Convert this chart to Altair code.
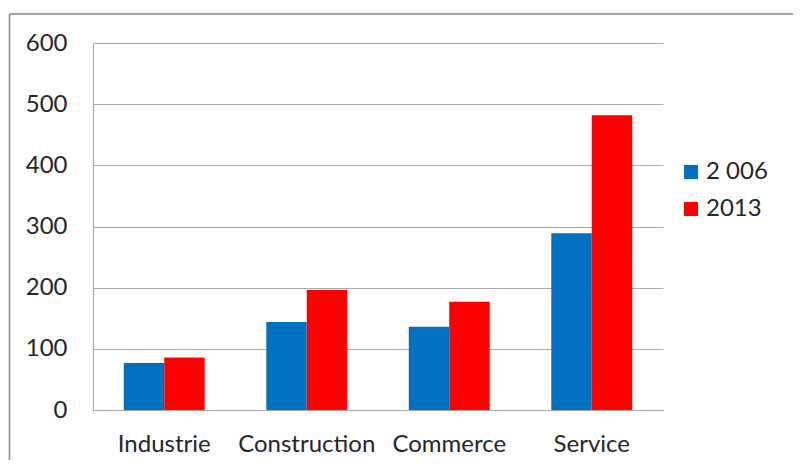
import altair as alt
import pandas as pd

categories = ["Industrie", "Construction", "Commerce", "Service"]
series_names = ["2 006", "2013"]
values_2006 = [77, 144, 136, 289]
values_2013 = [86, 196, 177, 482]
colors = ["#0070C0", "#FF0000"]

rows = []
for c, a, b in zip(categories, values_2006, values_2013):
    rows.append({"cat": c, "series": series_names[0], "value": a})
    rows.append({"cat": c, "series": series_names[1], "value": b})
df = pd.DataFrame(rows)

FONT = "Lato"
TEXT = "#262626"
FS = 24

bars = alt.Chart(df).mark_bar().encode(
    x=alt.X("cat:N", sort=categories, title=None,
            scale=alt.Scale(paddingInner=0.432, paddingOuter=0.216),
            axis=alt.Axis(labelAngle=0, ticks=False, grid=False,
                          domainColor="#A6A6A6",
                          labelFontSize=FS, labelPadding=22, labelColor=TEXT,
                          labelFont=FONT)),
    xOffset=alt.XOffset("series:N", sort=series_names,
                        scale=alt.Scale(paddingInner=0, paddingOuter=0)),
    y=alt.Y("value:Q", title=None,
            scale=alt.Scale(domain=[0, 600], nice=False),
            axis=alt.Axis(values=[0, 100, 200, 300, 400, 500, 600], ticks=False,
                          domainColor="#A6A6A6", gridColor="#ABABAB",
                          labelFontSize=FS, labelPadding=26, labelColor=TEXT,
                          labelFont=FONT)),
    color=alt.Color("series:N", sort=series_names,
                    scale=alt.Scale(domain=series_names, range=colors),
                    legend=alt.Legend(title=None, orient="none", legendX=586,
                                      legendY=117, padding=0, symbolType="square",
                                      symbolSize=196, symbolStrokeWidth=0,
                                      labelFontSize=FS, labelFont=FONT,
                                      labelColor=TEXT, rowPadding=13,
                                      labelOffset=3)),
)

one = pd.DataFrame({"a": [0]})
top_line = alt.Chart(one).mark_rule(color="#888888", strokeWidth=1.5).encode(
    x=alt.value(-83.5), x2=alt.value(900), y=alt.value(-29))
left_line = alt.Chart(one).mark_rule(color="#888888", strokeWidth=1.5).encode(
    x=alt.value(-83.5), y=alt.value(-29), y2=alt.value(600))

chart = alt.layer(top_line, left_line, bars).properties(
    width=570, height=367,
    background="white",
    autosize=alt.AutoSizeParams(type="none"),
    padding={"left": 85, "top": 35, "right": 130, "bottom": 50},
).configure_view(strokeWidth=0, stroke=None)

chart.save("out.html", embed_options={"renderer": "svg", "actions": False})
